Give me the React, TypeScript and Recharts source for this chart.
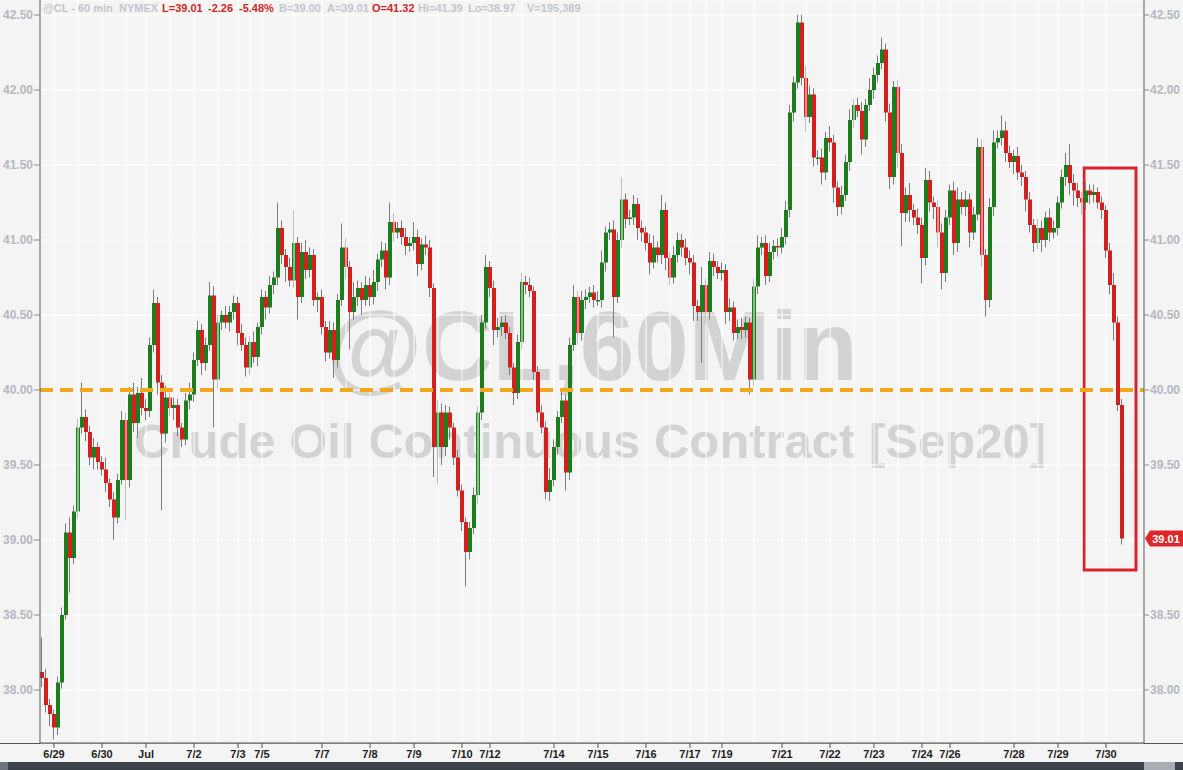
import React from "react";
import {
  Bar,
  CartesianGrid,
  ComposedChart,
  ReferenceArea,
  ReferenceLine,
  XAxis,
  YAxis,
} from "recharts";

// @CL 60-min, 6/28 evening to 7/30; one candle per two hours
const firstOpen = 38.12;
const closes = [
  38.08, 37.9, 37.84, 37.75, 38.05, 38.5, 39.05, 38.88, 39.19, 39.75,
  39.82, 39.72, 39.55, 39.62, 39.52, 39.47, 39.38, 39.27, 39.15, 39.4,
  39.8, 39.4, 39.97, 39.78, 39.98, 39.88, 39.86, 40.3, 40.58, 40.05,
  39.71, 39.95, 39.88, 39.9, 39.75, 39.67, 39.93, 39.97, 40.2, 40.4,
  40.18, 40.3, 40.63, 40.07, 40.45, 40.5, 40.45, 40.52, 40.58, 40.38,
  40.3, 40.15, 40.32, 40.22, 40.42, 40.62, 40.55, 40.7, 40.75, 41.08,
  40.9, 40.82, 40.73, 40.98, 40.62, 40.92, 40.8, 40.9, 40.6, 40.62,
  40.42, 40.25, 40.4, 40.2, 40.6, 40.95, 40.82, 40.52, 40.62, 40.68,
  40.6, 40.7, 40.62, 40.72, 40.87, 40.93, 40.75, 41.12, 41.05, 41.08,
  41.02, 40.96, 40.98, 41.02, 40.84, 40.97, 40.95, 40.68, 39.62, 39.85,
  39.62, 39.85, 39.75, 39.55, 39.33, 39.12, 38.92, 39.08, 39.3, 39.85,
  40.45, 40.82, 40.68, 40.4, 40.42, 40.45, 40.38, 40.15, 39.98, 40.32,
  40.72, 40.7, 40.66, 40.12, 39.85, 39.75, 39.32, 39.4, 39.62, 39.82,
  39.93, 39.45, 40.3, 40.62, 40.38, 40.6, 40.62, 40.65, 40.6, 40.6,
  40.85, 41.05, 41.07, 40.62, 41.0, 41.27, 41.14, 41.15, 41.24, 41.08,
  41.05, 40.98, 40.85, 40.95, 40.9, 41.2, 40.88, 40.75, 40.9, 41.0,
  40.95, 40.88, 40.85, 40.56, 40.52, 40.7, 40.52, 40.86, 40.82, 40.78,
  40.8, 40.52, 40.55, 40.38, 40.42, 40.4, 40.45, 40.07, 40.69, 40.95,
  40.98, 40.76, 40.92, 40.96, 40.95, 41.02, 41.2, 41.85, 42.05, 42.45,
  42.08, 41.82, 41.97, 41.55, 41.55, 41.45, 41.68, 41.65, 41.35, 41.22,
  41.3, 41.52, 41.8, 41.9, 41.86, 41.67, 41.9, 42.0, 42.1, 42.18,
  42.27, 41.85, 41.42, 42.02, 41.58, 41.18, 41.3, 41.2, 41.15, 41.1,
  40.88, 41.4, 41.25, 41.22, 41.05, 40.78, 41.15, 41.33, 40.98, 41.27,
  41.22, 41.27, 41.05, 41.17, 41.62, 40.9, 40.6, 41.22, 41.65, 41.68,
  41.73, 41.58, 41.52, 41.56, 41.45, 41.42, 41.27, 41.1, 40.98, 41.08,
  41.0, 41.15, 41.05, 41.08, 41.25, 41.42, 41.5, 41.38, 41.33, 41.28,
  41.25, 41.33, 41.3, 41.32, 41.25, 41.2, 40.93, 40.7, 40.45, 39.9,
  39.01,
];
// wick lengths above / below the body, in cents
const hiExt = [
  23, 6, 4, 3, 4, 5, 6, 10, 4, 6,
  23, 5, 4, 6, 3, 4, 8, 3, 5, 4,
  6, 5, 5, 8, 4, 10, 6, 5, 9, 4,
  5, 8, 6, 5, 4, 3, 5, 8, 5, 6,
  4, 5, 9, 6, 5, 3, 6, 4, 5, 4,
  6, 5, 4, 7, 3, 5, 4, 6, 4, 17,
  5, 4, 6, 22, 4, 6, 8, 5, 4, 3,
  5, 4, 6, 5, 4, 16, 6, 4, 10, 5,
  4, 6, 5, 8, 4, 6, 5, 13, 6, 4,
  5, 6, 4, 10, 5, 4, 6, 5, 3, 8,
  6, 5, 4, 3, 5, 4, 3, 4, 5, 4,
  5, 8, 4, 5, 6, 4, 5, 4, 3, 5,
  6, 4, 5, 3, 4, 5, 4, 8, 5, 4,
  6, 4, 5, 8, 4, 6, 5, 4, 5, 6,
  8, 4, 5, 6, 5, 15, 4, 5, 6, 4,
  5, 4, 6, 8, 4, 10, 5, 4, 6, 5,
  4, 6, 5, 5, 4, 12, 4, 6, 5, 4,
  5, 4, 6, 4, 5, 6, 4, 3, 5, 8,
  4, 5, 6, 4, 5, 6, 6, 5, 4, 5,
  5, 8, 6, 4, 5, 6, 4, 8, 5, 4,
  6, 5, 7, 4, 5, 6, 4, 8, 5, 5,
  8, 4, 6, 4, 5, 6, 5, 8, 4, 6,
  5, 8, 6, 4, 5, 6, 5, 4, 6, 8,
  5, 6, 4, 5, 6, 5, 4, 6, 8, 5,
  10, 6, 5, 4, 6, 5, 4, 5, 4, 6,
  5, 4, 6, 5, 4, 5, 8, 14, 6, 5,
  4, 6, 4, 5, 3, 4, 3, 5, 8, 4,
  4,
];
const loExt = [
  6, 5, 8, 8, 5, 4, 3, 23, 4, 5,
  4, 6, 5, 8, 5, 4, 6, 5, 15, 4,
  3, 27, 5, 6, 10, 5, 6, 4, 5, 8,
  51, 6, 5, 8, 6, 5, 4, 6, 5, 4,
  8, 5, 4, 32, 6, 5, 4, 6, 5, 8,
  4, 6, 5, 4, 6, 5, 8, 4, 6, 5,
  6, 10, 4, 5, 15, 4, 6, 5, 4, 8,
  5, 6, 4, 12, 5, 4, 8, 25, 5, 6,
  10, 4, 6, 5, 6, 5, 8, 5, 6, 4,
  5, 6, 4, 5, 8, 4, 5, 6, 20, 25,
  12, 6, 8, 5, 4, 6, 23, 5, 4, 6,
  5, 4, 6, 10, 5, 6, 4, 5, 8, 4,
  5, 6, 4, 5, 6, 4, 5, 6, 4, 5,
  4, 12, 5, 4, 8, 5, 6, 4, 5, 4,
  5, 6, 5, 27, 4, 5, 6, 4, 5, 8,
  6, 5, 8, 4, 5, 6, 8, 5, 4, 5,
  6, 5, 8, 10, 6, 34, 8, 5, 6, 4,
  5, 8, 6, 5, 4, 6, 5, 10, 4, 5,
  5, 6, 4, 5, 6, 4, 5, 5, 6, 4,
  5, 10, 4, 6, 5, 8, 5, 6, 10, 6,
  5, 4, 6, 5, 4, 10, 5, 4, 6, 5,
  4, 6, 8, 5, 10, 22, 6, 8, 5, 6,
  17, 5, 6, 8, 10, 11, 6, 5, 8, 6,
  5, 6, 10, 5, 4, 8, 11, 5, 6, 4,
  5, 6, 4, 8, 5, 6, 8, 5, 6, 4,
  8, 5, 6, 4, 5, 4, 6, 8, 10, 6,
  8, 5, 6, 5, 4, 6, 5, 6, 12, 4,
  4,
];
const emptySlots = 5;

const dayTicks = [3, 15, 26, 38, 49, 55, 70, 82, 93, 105, 112, 128, 139, 151, 162, 170, 185, 197, 208, 220, 227, 243, 254, 266];
const dayLabels = ["6/29", "6/30", "Jul", "7/2", "7/3", "7/5", "7/7", "7/8", "7/9", "7/10", "7/12", "7/14", "7/15", "7/16", "7/17", "7/19", "7/21", "7/22", "7/23", "7/24", "7/26", "7/28", "7/29", "7/30"];
const priceTicks = [38, 38.5, 39, 39.5, 40, 40.5, 41, 41.5, 42, 42.5];
const priceDomain: [number, number] = [37.6467, 42.6];
const support = 40;
const box = { x1: 261, x2: 273, y1: 38.8, y2: 41.48 };

const header = [
  { t: "@CL - 60 min", x: 43, red: false },
  { t: "NYMEX", x: 119, red: false },
  { t: "L=39.01", x: 162, red: true },
  { t: "-2.26", x: 208, red: true },
  { t: "-5.48%", x: 239, red: true },
  { t: "B=39.00", x: 279, red: false },
  { t: "A=39.01", x: 327, red: false },
  { t: "O=41.32", x: 372, red: true },
  { t: "Hi=41.39", x: 418, red: false },
  { t: "Lo=38.97", x: 468, red: false },
  { t: "V=195,389", x: 527, red: false },
];

const data = closes.map((c, i) => {
  const o = i === 0 ? firstOpen : closes[i - 1];
  const h = Math.max(o, c) + (hiExt[i] ?? 0) / 100;
  const l = Math.min(o, c) - (loExt[i] ?? 0) / 100;
  return { i, o, c, h, l, range: [l, h] };
});
for (let k = 0; k < emptySlots; k++) data.push({ i: closes.length + k } as any);

const midTicks = dayTicks.slice(1).map((t, k) => Math.round((t + dayTicks[k]) / 2));
const labelOf: Record<number, string> = {};
dayTicks.forEach((t, k) => (labelOf[t] = dayLabels[k]));
const lastClose = closes[closes.length - 1];
// the last-price tag covers the nearest right-hand label
const rightTicks = priceTicks.filter((t) => Math.abs(t - lastClose) > 0.08);

const GREEN = "#1d7d1d";
const RED = "#d41f1f";
const FONT = "'Liberation Sans', Arial, sans-serif";

function Candle(props: any) {
  const { x, y, width, height, payload } = props;
  if (!payload || payload.o == null) return null;
  const { o, c, h, l } = payload;
  const top = Math.min(y, y + height);
  const span = Math.abs(height);
  const k = span / (h - l);
  const yOf = (v: number) => top + (h - v) * k;
  const left = Math.round(x + width / 2 - 2);
  const bTop = yOf(Math.max(o, c));
  const bH = Math.max(1.5, yOf(Math.min(o, c)) - bTop);
  return (
    <g>
      <line x1={left + 1.5} x2={left + 1.5} y1={top} y2={top + span} stroke="#7d7d7d" strokeWidth={1} />
      <rect x={left} y={bTop} width={4} height={bH} fill={c >= o ? GREEN : RED} />
    </g>
  );
}

function PriceTag(props: any) {
  const vb = props.viewBox;
  if (!vb) return null;
  const x0 = vb.x + vb.width + 1;
  const yc = vb.y;
  return (
    <g>
      <path
        d={`M${x0} ${yc} L${x0 + 5} ${yc - 8} L${x0 + 37} ${yc - 8} Q${x0 + 39} ${yc - 8} ${x0 + 39} ${yc - 6} L${x0 + 39} ${yc + 6} Q${x0 + 39} ${yc + 8} ${x0 + 37} ${yc + 8} L${x0 + 5} ${yc + 8} Z`}
        fill="#e0262b"
      />
      <text x={x0 + 21} y={yc + 4} textAnchor="middle" fontSize={11} fontWeight="bold" fill="#fff">
        {lastClose.toFixed(2)}
      </text>
    </g>
  );
}

const axisTick = { fontSize: 12, fontWeight: "bold" as const, fill: "#b5b8c1" };

export default function App() {
  return (
    <div style={{ position: "absolute", left: 0, top: 0, width: 1183, height: 770, background: "#f4f4f4", fontFamily: FONT, overflow: "hidden" }}>
      <svg width={1183} height={770} style={{ position: "absolute", left: 0, top: 0 }}>
        <text x={592} y={380} textAnchor="middle" fontSize={98} fontWeight="bold" fill="#d3d3d3">@CL,60Min</text>
        <text x={590} y={458} textAnchor="middle" fontSize={49} fontWeight="bold" fill="#d3d3d3">Crude Oil Continuous Contract [Sep20]</text>
        <line x1={0} x2={1183} y1={743.5} y2={743.5} stroke="#555" />
      </svg>
      <div style={{ position: "absolute", left: 0, top: 0 }}>
        <ComposedChart width={1183} height={770} data={data} margin={{ top: 0, right: 0, bottom: 0, left: 0 }} barCategoryGap={0} barGap={0}>
          <CartesianGrid yAxisId="l" stroke="#ffffff" strokeWidth={1} />
          <XAxis
            dataKey="i"
            type="category"
            ticks={dayTicks}
            interval={0}
            height={27}
            tickFormatter={(v: any) => labelOf[v] ?? ""}
            tick={{ fontSize: 11, fontWeight: "bold", fill: "#1e1e1e" }}
            tickSize={5}
            tickMargin={2}
            axisLine={{ stroke: "#555" }}
            tickLine={{ stroke: "#555" }}
          />
          <YAxis
            yAxisId="l"
            orientation="left"
            width={40}
            type="number"
            domain={priceDomain}
            allowDataOverflow
            ticks={priceTicks}
            tickFormatter={(v: number) => v.toFixed(2)}
            tick={axisTick}
            tickSize={6}
            tickMargin={1}
            axisLine={{ stroke: "#555" }}
            tickLine={{ stroke: "#888" }}
          />
          <YAxis
            yAxisId="r"
            orientation="right"
            width={39}
            type="number"
            domain={priceDomain}
            allowDataOverflow
            ticks={rightTicks}
            tickFormatter={(v: number) => v.toFixed(2)}
            tick={axisTick}
            tickSize={5}
            tickMargin={1}
            axisLine={{ stroke: "#555" }}
            tickLine={{ stroke: "#888" }}
          />
          {midTicks.map((m) => (
            <ReferenceLine key={m} x={m} yAxisId="l" stroke="#ffffff" strokeWidth={1} />
          ))}
          <Bar dataKey="range" yAxisId="l" isAnimationActive={false} shape={(p: any) => <Candle {...p} />} />
          <ReferenceLine y={support} yAxisId="l" stroke="#f1a81d" strokeWidth={4} strokeDasharray="13 7" />
          <ReferenceArea
            yAxisId="l"
            x1={box.x1}
            x2={box.x2}
            y1={box.y1}
            y2={box.y2}
            fill="none"
            stroke="#d9232e"
            strokeWidth={3}
            fillOpacity={0}
          />
          <ReferenceLine y={lastClose} yAxisId="l" stroke="none" label={<PriceTag />} />
        </ComposedChart>
      </div>
      <svg width={1183} height={20} style={{ position: "absolute", left: 0, top: 0 }}>
        {header.map((h) => (
          <text key={h.t} x={h.x} y={12} fontSize={11} fontWeight="bold" fill={h.red ? "#d02828" : "#c3c6cc"}>
            {h.t}
          </text>
        ))}
      </svg>
      <div style={{ position: "absolute", left: 0, top: 762, width: 1183, height: 8, background: "#3c424a" }} />
      <div style={{ position: "absolute", left: 0, top: 762, width: 8, height: 8, background: "#6b7580" }} />
      <div style={{ position: "absolute", left: 1144, top: 762, width: 31, height: 8, background: "#a9adb4" }} />
    </div>
  );
}
